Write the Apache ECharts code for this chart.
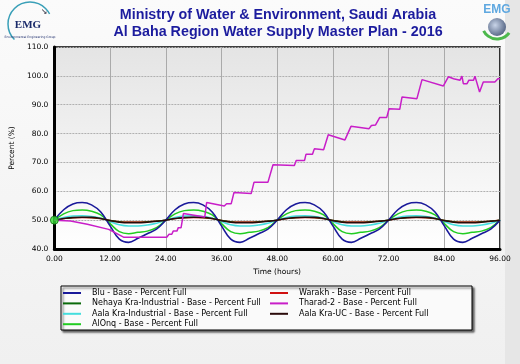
<!DOCTYPE html>
<html><head><meta charset="utf-8">
<script src="https://cdn.jsdelivr.net/npm/echarts@6/dist/echarts.min.js"></script>
<style>html,body{margin:0;padding:0;background:#f4f4f4}#c{width:520px;height:364px}</style>
</head><body><div id="c"></div>
<script>
// Time axis (hours) for the oscillating reservoirs, every 2 h
var hours = [0,2,4,6,8,10,12,14,16,18,20,22,24,26,28,30,32,34,36,38,40,42,44,46,48,50,52,54,56,58,60,62,64,66,68,70,72,74,76,78,80,82,84,86,88,90,92,94,96];
var blu = [50,53.6,55.6,56.1,55.3,52.8,48.0,43.4,42.3,43.7,45.3,46.9,
           50,53.6,55.6,56.1,55.3,52.8,48.0,43.4,42.3,43.7,45.3,46.9,
           50,53.6,55.6,56.1,55.3,52.8,48.0,43.4,42.3,43.7,45.3,46.9,
           50,53.6,55.6,56.1,55.3,52.8,48.0,43.4,42.3,43.7,45.3,46.9,50];
var alonq = [50,52.2,53.3,53.5,53.1,51.8,48.8,46.0,45.3,45.8,46.2,47.4,
             50,52.2,53.3,53.5,53.1,51.8,48.8,46.0,45.3,45.8,46.2,47.4,
             50,52.2,53.3,53.5,53.1,51.8,48.8,46.0,45.3,45.8,46.2,47.4,
             50,52.2,53.3,53.5,53.1,51.8,48.8,46.0,45.3,45.8,46.2,47.4,50];
var aalaInd = [50,50.9,51.4,51.5,51.3,50.7,49.5,48.4,48.0,48.0,48.3,48.9,
               50,50.9,51.4,51.5,51.3,50.7,49.5,48.4,48.0,48.0,48.3,48.9,
               50,50.9,51.4,51.5,51.3,50.7,49.5,48.4,48.0,48.0,48.3,48.9,
               50,50.9,51.4,51.5,51.3,50.7,49.5,48.4,48.0,48.0,48.3,48.9,50];
var aalaUC = [50,50.6,50.9,51.0,51.0,50.6,49.8,49.3,49.1,49.1,49.3,49.6,
              50,50.6,50.9,51.0,51.0,50.6,49.8,49.3,49.1,49.1,49.3,49.6,
              50,50.6,50.9,51.0,51.0,50.6,49.8,49.3,49.1,49.1,49.3,49.6,
              50,50.6,50.9,51.0,51.0,50.6,49.8,49.3,49.1,49.1,49.3,49.6,50];
var warakh = [50,50.5,50.8,50.9,50.8,50.5,49.9,49.5,49.4,49.4,49.5,49.7,
              50,50.5,50.8,50.9,50.8,50.5,49.9,49.5,49.4,49.4,49.5,49.7,
              50,50.5,50.8,50.9,50.8,50.5,49.9,49.5,49.4,49.4,49.5,49.7,
              50,50.5,50.8,50.9,50.8,50.5,49.9,49.5,49.4,49.4,49.5,49.7,50];
var nehaya = [50,50.6,50.9,51.0,50.9,50.6,49.9,49.4,49.2,49.2,49.4,49.7,
              50,50.6,50.9,51.0,50.9,50.6,49.9,49.4,49.2,49.2,49.4,49.7,
              50,50.6,50.9,51.0,50.9,50.6,49.9,49.4,49.2,49.2,49.4,49.7,
              50,50.6,50.9,51.0,50.9,50.6,49.9,49.4,49.2,49.2,49.4,49.7,50];
// Tharad-2 (stepped filling)
var tharadT = [0,3.5,7.1,11.7,14.9,24.2,24.7,25.3,25.6,26.4,26.7,27.3,27.8,32.4,32.8,36.6,37.1,38.1,38.7,42.4,43.0,46.0,47.1,51.7,52.1,53.9,54.2,55.6,56.0,58.0,59.0,62.6,63.9,67.8,68.3,69.2,70.1,71.6,72.1,74.4,74.9,78.1,79.2,83.8,84.9,86.0,87.4,87.8,88.1,88.9,89.3,90.3,90.6,91.6,92.4,94.9,95.6,96];
var tharadV = [50,49.7,48.6,46.8,44.1,44.1,45.1,45.1,46.2,46.2,47.4,47.4,52.3,51.1,56.1,54.9,55.7,55.7,59.6,59.2,63.1,63.1,69.2,68.9,70.7,70.7,72.8,72.8,74.7,74.4,79.6,77.8,82.5,81.7,82.8,83.0,85.6,85.6,88.6,88.4,92.7,92.1,98.7,96.5,99.7,99.0,98.5,99.9,97.3,97.3,98.5,98.5,99.9,94.4,97.9,97.9,99.1,98.9];
var names = {
  blu: 'Blu - Base - Percent Full',
  warakh: 'Warakh - Base - Percent Full',
  nehaya: 'Nehaya Kra-Industrial - Base - Percent Full',
  tharad: 'Tharad-2 - Base - Percent Full',
  aalaInd: 'Aala Kra-Industrial - Base - Percent Full',
  aalaUC: 'Aala Kra-UC - Base - Percent Full',
  alonq: 'AlOnq - Base - Percent Full'
};
var titleLines = ['Ministry of Water & Environment, Saudi Arabia', 'Al Baha Region Water Supply Master Plan - 2016'];

function pairs(xs, ys){ return xs.map(function(x,i){ return [x, ys[i]]; }); }
var F = 'DejaVu Sans';
function lineSeries(name, xs, ys, color, w, smooth){
  return { name: name, type: 'line', data: pairs(xs, ys), symbol: 'none', smooth: smooth,
    lineStyle: { color: color, width: w }, itemStyle: { color: color }, emphasis: { disabled: true } };
}
var chart = echarts.init(document.getElementById('c'), null, { renderer: 'canvas' });
var legendText = { fontFamily: F, fontSize: 8, color: '#000', padding: [0,0,0,6], lineHeight: 10 };
var legendCommon = { orient: 'vertical', top: 288, padding: 0, itemWidth: 18, itemHeight: 2, itemGap: 0.4,
  icon: 'rect', textStyle: legendText, selectedMode: false };
chart.setOption({
  backgroundColor: new echarts.graphic.LinearGradient(0,0,0,1,[{offset:0,color:'#fbfbfb'},{offset:1,color:'#f0f0f0'}]),
  animation: false,
  grid: { left: 52, right: 20, top: 47, bottom: 115, show: true, borderColor: '#000', borderWidth: 1.6,
    backgroundColor: new echarts.graphic.LinearGradient(0,0,0,1,[{offset:0,color:'#e4e4e4'},{offset:1,color:'#ffffff'}]) },
  xAxis: { type: 'value', min: 0, max: 96, interval: 12,
    name: 'Time (hours)', nameLocation: 'middle', nameGap: 18,
    nameTextStyle: { fontFamily: F, fontSize: 7.5, color: '#000' },
    axisLine: { show: true, lineStyle: { color: '#000', width: 3 } },
    axisTick: { show: false },
    axisLabel: { fontFamily: F, fontSize: 7.5, color: '#000', margin: 6, formatter: function(v){ return v.toFixed(2); } },
    splitLine: { show: true, lineStyle: { color: '#aaaaaa', width: 1 } } },
  yAxis: { type: 'value', min: 40, max: 110, interval: 10,
    name: 'Percent (%)', nameLocation: 'middle', nameGap: 36, nameRotate: 90,
    nameTextStyle: { fontFamily: F, fontSize: 7.5, color: '#000' },
    axisLine: { show: true, lineStyle: { color: '#000', width: 3 } },
    axisTick: { show: false },
    axisLabel: { fontFamily: F, fontSize: 7.5, color: '#000', margin: 6, formatter: function(v){ return v.toFixed(1); } },
    splitLine: { show: true, lineStyle: { color: '#b0b0b0', width: 1, type: [2,1] } } },
  legend: [
    Object.assign({ left: 63, data: [names.blu, names.nehaya, names.aalaInd, names.alonq] }, legendCommon),
    Object.assign({ left: 270, data: [names.warakh, names.tharad, names.aalaUC] }, legendCommon)
  ],
  graphic: [
    { type: 'rect', left: 505, top: 0, shape: { width: 15, height: 364 }, style: { fill: '#e6e6e6' }, z: -1 },
    { type: 'rect', shape: { x: 61, y: 286, width: 411, height: 44 },
      style: { fill: '#fafafa', stroke: '#000', lineWidth: 1, shadowBlur: 2, shadowOffsetX: 2, shadowOffsetY: 2, shadowColor: 'rgba(0,0,0,0.6)' }, z: -1 },
    { type: 'text', x: 278, y: 15, style: { text: titleLines[0], fill: '#1c1c9e', font: 'bold 14.3px "Liberation Sans", Arial', align: 'center', verticalAlign: 'middle' } },
    { type: 'text', x: 278, y: 32, style: { text: titleLines[1], fill: '#1c1c9e', font: 'bold 14.3px "Liberation Sans", Arial', align: 'center', verticalAlign: 'middle' } },
    // left logo
    { type: 'arc', shape: { cx: 30, cy: 24, r: 22, startAngle: Math.PI*0.75, endAngle: Math.PI*1.85 }, style: { stroke: '#3aa0b8', lineWidth: 1.5, fill: null } },
    { type: 'text', x: 28, y: 25, style: { text: 'EMG', fill: '#1a2a6a', font: 'bold 11px "Liberation Serif", serif', align: 'center', verticalAlign: 'middle' } },
    { type: 'text', x: 30, y: 37, style: { text: 'Environmental Engineering Group', fill: '#1a2a6a', font: '3px "DejaVu Sans"', align: 'center', verticalAlign: 'middle' } },
    { type: 'text', x: 44, y: 12, style: { text: '↘', fill: '#223', font: '8px "DejaVu Sans"', align: 'center', verticalAlign: 'middle' } },
    // right logo
    { type: 'text', x: 497, y: 10, style: { text: 'EMG', fill: '#5fa8e0', font: 'bold 12px "Liberation Sans", Arial', align: 'center', verticalAlign: 'middle' } },
    { type: 'circle', shape: { cx: 497, cy: 27, r: 9 }, style: { fill: new echarts.graphic.RadialGradient(0.4,0.4,0.7,[{offset:0,color:'#c8d4e8'},{offset:1,color:'#4a5a7a'}]) } },
    { type: 'arc', shape: { cx: 497, cy: 24, r: 15, startAngle: Math.PI*0.2, endAngle: Math.PI*0.85 }, style: { stroke: '#4cb84c', lineWidth: 3, fill: null } }
  ],
  series: [
    lineSeries(names.warakh, hours, warakh, '#d01010', 1.2, 0.4),
    lineSeries(names.nehaya, hours, nehaya, '#0a6a0a', 1.2, 0.4),
    lineSeries(names.aalaInd, hours, aalaInd, '#44dede', 1.5, 0.4),
    lineSeries(names.alonq, hours, alonq, '#22cc22', 1.5, 0.4),
    lineSeries(names.blu, hours, blu, '#1a1a9a', 1.6, 0.4),
    lineSeries(names.aalaUC, hours, aalaUC, '#2a0a0a', 1.5, 0.4),
    lineSeries(names.tharad, tharadT, tharadV, '#c81ec8', 1.5, false),
    { type: 'scatter', data: [[hours[0], alonq[0]]], symbolSize: 8, z: 10,
      itemStyle: { color: '#33dd33', borderColor: '#107010', borderWidth: 1 }, emphasis: { disabled: true } }
  ]
});
</script></body></html>
